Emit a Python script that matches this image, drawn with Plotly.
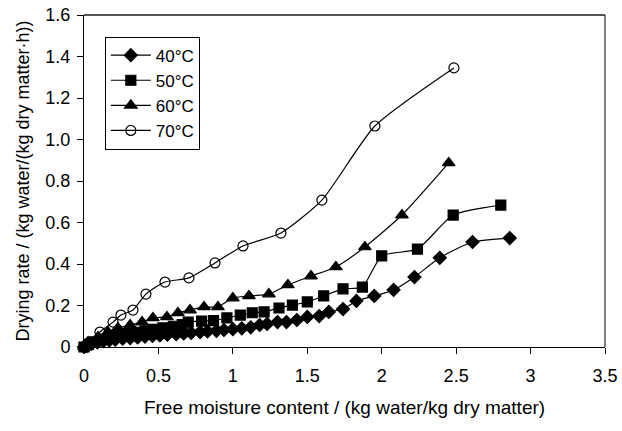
import plotly.graph_objects as go

# ---- data ----
x40 = [0.0, 0.02, 0.05, 0.09, 0.13, 0.17, 0.21, 0.26, 0.31, 0.36, 0.41, 0.46, 0.51, 0.56,
       0.62, 0.67, 0.72, 0.78, 0.83, 0.89, 0.94, 1.0, 1.06, 1.12, 1.18, 1.23, 1.30, 1.36,
       1.43, 1.50, 1.58, 1.645, 1.74, 1.83, 1.95, 2.08, 2.22, 2.39, 2.61, 2.86]
y40 = [0.0, 0.005, 0.015, 0.022, 0.028, 0.032, 0.036, 0.040, 0.043, 0.046, 0.050, 0.053, 0.056, 0.059,
       0.062, 0.065, 0.068, 0.072, 0.075, 0.078, 0.082, 0.086, 0.090, 0.095, 0.106, 0.111, 0.120, 0.120,
       0.130, 0.145, 0.149, 0.169, 0.183, 0.222, 0.246, 0.275, 0.337, 0.430, 0.506, 0.525]

x50 = [0.0, 0.03, 0.07, 0.12, 0.17, 0.23, 0.29, 0.35, 0.41, 0.47, 0.53, 0.60, 0.66, 0.70,
       0.79, 0.87, 0.96, 1.05, 1.13, 1.21, 1.31, 1.40, 1.50, 1.61, 1.74, 1.87, 2.0, 2.24, 2.48, 2.80]
y50 = [0.0, 0.012, 0.025, 0.038, 0.048, 0.056, 0.064, 0.071, 0.078, 0.085, 0.092, 0.100, 0.108, 0.120,
       0.125, 0.127, 0.140, 0.154, 0.165, 0.169, 0.188, 0.202, 0.217, 0.246, 0.280, 0.289, 0.439, 0.472, 0.636, 0.684]

x60 = [0.0, 0.027, 0.094, 0.161, 0.228, 0.31, 0.39, 0.463, 0.557, 0.631, 0.712, 0.806, 0.90,
       1.0, 1.108, 1.242, 1.37, 1.525, 1.692, 1.887, 2.136, 2.45]
y60 = [0.0, 0.024, 0.048, 0.072, 0.092, 0.106, 0.120, 0.140, 0.145, 0.164, 0.178, 0.193, 0.193,
       0.236, 0.246, 0.255, 0.299, 0.342, 0.386, 0.482, 0.636, 0.887]

x70 = [0.0, 0.027, 0.107, 0.195, 0.248, 0.329, 0.416, 0.544, 0.705, 0.88, 1.068, 1.323, 1.598, 1.954, 2.485]
y70 = [0.0, 0.019, 0.072, 0.120, 0.154, 0.178, 0.255, 0.313, 0.333, 0.405, 0.487, 0.549, 0.708, 1.065, 1.345]

names = ["40°C", "50°C", "60°C", "70°C"]
xticks = [0, 0.5, 1, 1.5, 2, 2.5, 3, 3.5]
xticklabels = ["0", "0.5", "1", "1.5", "2", "2.5", "3", "3.5"]
yticks = [0, 0.2, 0.4, 0.6, 0.8, 1.0, 1.2, 1.4, 1.6]
yticklabels = ["0", "0.2", "0.4", "0.6", "0.8", "1.0", "1.2", "1.4", "1.6"]

FONT = "Liberation Sans, Arial, sans-serif"

fig = go.Figure()
series = [
    (x40, y40, "diamond", 10),
    (x50, y50, "square", 10),
    (x60, y60, "triangle-up", 11),
    (x70, y70, "circle-open", 10),
]
for (xs, ys, sym, sz), nm in zip(series, names):
    fig.add_trace(go.Scatter(
        x=xs, y=ys, name=nm, mode="lines+markers",
        line=dict(color="black", width=1.2, shape="spline", smoothing=0.6),
        marker=dict(symbol=sym, size=sz, color="black", line=dict(color="black", width=1.2)),
        cliponaxis=False,
    ))

fig.update_layout(
    width=622, height=431,
    margin=dict(l=84, r=17, t=15, b=84),
    paper_bgcolor="white", plot_bgcolor="white",
    font=dict(family=FONT, size=17, color="black"),
    showlegend=True,
    legend=dict(
        x=0.04, y=0.935, xanchor="left", yanchor="top",
        bgcolor="white", bordercolor="black", borderwidth=1,
        font=dict(family=FONT, size=17, color="black"),
        itemwidth=40,
    ),
    xaxis=dict(
        range=[0, 3.5], tickvals=xticks, ticktext=xticklabels,
        ticks="outside", ticklen=6, tickcolor="black", tickwidth=1,
        showline=True, linecolor="black", linewidth=1, mirror=False,
        showgrid=False, zeroline=False,
        tickfont=dict(size=18), ticklabelstandoff=6,
        title=dict(text="Free moisture content / (kg water/kg dry matter)",
                   font=dict(size=19), standoff=16),
        automargin=False,
    ),
    yaxis=dict(
        range=[0, 1.6], tickvals=yticks, ticktext=yticklabels,
        ticks="outside", ticklen=6, tickcolor="black", tickwidth=1,
        showline=True, linecolor="black", linewidth=1, mirror=False,
        showgrid=False, zeroline=False,
        tickfont=dict(size=18), ticklabelstandoff=3,
        title=dict(text="Drying rate / (kg water/(kg dry matter·h))",
                   font=dict(size=18), standoff=11),
        automargin=False,
    ),
    shapes=[
        dict(type="line", xref="paper", yref="paper", x0=0, x1=1, y0=1, y1=1,
             line=dict(color="#555555", width=2)),
        dict(type="line", xref="paper", yref="paper", x0=1, x1=1, y0=0, y1=1,
             line=dict(color="black", width=1)),
    ],
)

fig.write_html(
    "out.html",
    config={"displayModeBar": False},
    post_script="document.body.style.margin='0';document.body.style.overflow='hidden';",
)
